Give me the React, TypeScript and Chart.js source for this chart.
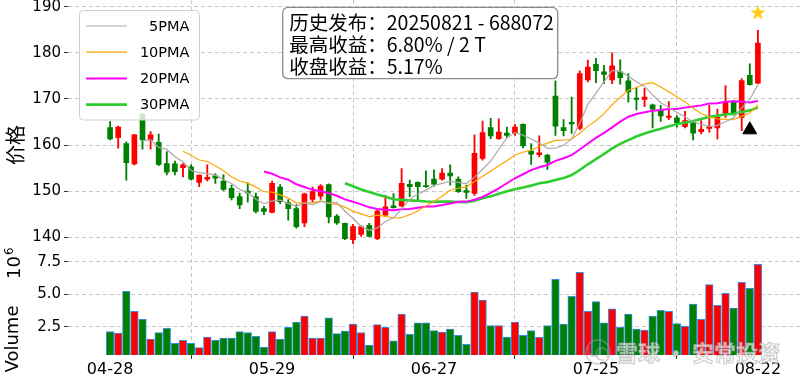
import React, { useEffect, useRef } from 'react';
import { Chart, registerables } from 'chart.js';

Chart.register(...registerables);

// ---------- data ----------
const dates = [
  '04-28', '04-29', '04-30', '05-06', '05-07', '05-08', '05-09', '05-12', '05-13', '05-14',
  '05-15', '05-16', '05-19', '05-20', '05-21', '05-22', '05-23', '05-26', '05-27', '05-28',
  '05-29', '05-30', '06-03', '06-04', '06-05', '06-06', '06-09', '06-10', '06-11', '06-12',
  '06-13', '06-16', '06-17', '06-18', '06-19', '06-20', '06-23', '06-24', '06-25', '06-26',
  '06-27', '06-30', '07-01', '07-02', '07-03', '07-04', '07-07', '07-08', '07-09', '07-10',
  '07-11', '07-14', '07-15', '07-16', '07-17', '07-18', '07-21', '07-22', '07-23', '07-24',
  '07-25', '07-28', '07-29', '07-30', '07-31', '08-01', '08-04', '08-05', '08-06', '08-07',
  '08-08', '08-11', '08-12', '08-13', '08-14', '08-15', '08-18', '08-19', '08-20', '08-21',
  '08-22',
];

const openP = [
  163.8, 161.6, 160.3, 155.9, 166.7, 161.1, 160.6, 156.0, 155.9, 155.1,
  155.3, 151.9, 152.6, 153.3, 152.2, 150.6, 148.8, 150.0, 148.8, 146.2,
  145.4, 150.9, 147.5, 146.2, 143.1, 148.2, 148.9, 151.4, 144.6, 143.0,
  139.5, 140.6, 142.6, 139.7, 144.8, 146.8, 146.8, 151.5, 151.9, 151.2,
  152.6, 152.6, 153.9, 152.6, 150.1, 149.5, 157.1, 163.8, 161.4, 162.6,
  162.6, 164.5, 158.7, 157.9, 157.8, 170.6, 163.8, 164.9, 163.6, 174.1,
  177.5, 175.9, 174.1, 175.9, 173.9, 170.2, 169.9, 168.7, 167.5, 166.0,
  165.9, 164.0, 164.8, 162.9, 163.6, 163.7, 166.8, 169.4, 166.0, 175.1,
  173.4,
];
const highP = [
  165.1, 164.1, 160.7, 162.3, 166.8, 162.9, 162.4, 158.6, 156.5, 156.0,
  155.7, 153.5, 155.7, 153.8, 153.6, 151.3, 149.6, 151.8, 149.6, 146.7,
  152.2, 151.4, 148.2, 147.1, 149.6, 150.9, 151.4, 151.6, 144.9, 143.1,
  142.8, 142.5, 143.0, 145.9, 149.1, 149.5, 154.9, 152.4, 152.0, 154.4,
  154.6, 154.9, 155.7, 153.1, 151.3, 162.2, 165.2, 165.8, 165.7, 163.9,
  164.5, 164.6, 160.3, 162.0, 158.0, 173.9, 165.5, 170.4, 176.1, 178.4,
  178.8, 177.3, 180.0, 178.5, 175.5, 172.5, 172.3, 168.9, 168.6, 169.4,
  166.4, 167.3, 165.3, 165.3, 168.6, 167.8, 172.9, 169.7, 174.4, 177.6,
  184.9,
];
const lowP = [
  161.1, 159.3, 152.4, 155.7, 159.1, 159.1, 155.5, 153.5, 153.5, 153.1,
  152.4, 151.0, 152.2, 151.7, 150.1, 148.1, 146.2, 147.6, 145.3, 144.9,
  145.3, 147.3, 143.7, 142.0, 142.3, 147.6, 148.2, 143.1, 142.8, 139.5,
  138.6, 140.2, 140.1, 139.5, 144.6, 146.3, 146.6, 148.8, 148.1, 150.8,
  151.1, 152.4, 151.3, 149.7, 148.4, 149.1, 156.7, 161.4, 161.2, 161.6,
  162.1, 159.4, 155.8, 157.4, 154.7, 162.1, 162.0, 162.5, 163.3, 173.7,
  173.5, 173.3, 173.3, 173.2, 169.3, 167.6, 168.3, 163.7, 165.1, 165.5,
  163.9, 163.7, 161.1, 162.4, 162.8, 161.3, 166.0, 166.5, 163.1, 173.0,
  173.3,
];
const closeP = [
  161.3, 163.9, 156.2, 162.2, 161.1, 162.2, 155.8, 154.1, 154.2, 155.7,
  152.6, 153.5, 153.0, 152.8, 150.4, 148.6, 147.0, 149.6, 145.6, 145.6,
  151.7, 147.7, 146.2, 142.3, 149.4, 149.9, 151.1, 144.4, 143.1, 139.7,
  142.3, 142.3, 140.2, 145.7, 146.6, 146.4, 151.7, 151.0, 151.0, 151.0,
  151.5, 153.9, 153.3, 149.9, 149.7, 158.2, 162.7, 162.0, 162.8, 162.1,
  163.9, 159.8, 158.0, 158.3, 156.3, 164.1, 163.1, 164.6, 175.5, 176.9,
  176.1, 175.3, 177.2, 174.6, 171.5, 169.9, 170.4, 167.8, 166.3, 166.3,
  164.8, 165.3, 162.6, 163.4, 164.0, 166.0, 169.3, 167.0, 174.0, 173.1,
  182.1,
];
// volume in units of 10^6
const volume = [
  2.14, 2.04, 5.23, 3.70, 3.09, 1.58, 2.07, 2.40, 1.25, 1.48,
  1.25, 0.92, 1.73, 1.48, 1.66, 1.66, 2.14, 2.07, 1.79, 0.97,
  2.14, 1.58, 2.47, 2.88, 3.34, 1.66, 1.66, 3.21, 1.99, 2.19,
  2.73, 2.07, 1.10, 2.68, 2.47, 1.45, 3.49, 1.94, 2.81, 2.81,
  2.22, 2.12, 2.35, 1.86, 1.17, 5.18, 4.57, 2.60, 2.60, 1.73,
  2.88, 1.86, 2.22, 1.71, 2.60, 6.15, 2.73, 4.85, 6.68, 3.70,
  4.44, 2.81, 3.90, 2.47, 3.49, 2.35, 2.27, 3.34, 3.78, 3.70,
  2.76, 2.55, 4.26, 3.09, 5.74, 4.16, 5.08, 3.95, 5.92, 5.46,
  7.30,
];

const xTickIndex = [0, 20, 40, 60, 80];
const priceTicks = [140, 150, 160, 170, 180, 190];
const volumeTicks = [2.5, 5.0, 7.5];

const maPeriods = [5, 10, 20, 30];
const maLabels = ['5PMA', '10PMA', '20PMA', '30PMA'];
const maColors = ['#a9a9a9', '#ffa500', '#ff00ff', '#2fcc2f'];
const maWidths = [1.2, 1.2, 2.0, 2.6];

const releaseIndex = 79;
const releaseMarkerPrice = 163.3;
const peakIndex = 80;
const peakMarkerPrice = 188.8;

const infoLines = ['历史发布：20250821 - 688072', '最高收益：6.80% / 2 T', '收盘收益：5.17%'];

const UP = '#ff0000';
const DOWN = '#008000';

// panel frame (pixels)
const AREA = { left: 68, right: 800, top: 0, split: 254.8, bottom: 355, canvasH: 381 };

// ---------- helpers ----------
function movingAverage(n: number) {
  return closeP.map((_, i) => {
    if (i < n - 1) return null;
    let s = 0;
    for (let k = i - n + 1; k <= i; k++) s += closeP[k];
    return s / n;
  });
}

function makeStar(size: number, color: string) {
  const c = document.createElement('canvas');
  c.width = size;
  c.height = size;
  const g = c.getContext('2d')!;
  const cx = size / 2, cy = size / 2 + size * 0.05;
  const R = size / 2, r = R * 0.4;
  g.beginPath();
  for (let k = 0; k < 10; k++) {
    const a = -Math.PI / 2 + (k * Math.PI) / 5;
    const rr = k % 2 === 0 ? R : r;
    const px = cx + rr * Math.cos(a), py = cy + rr * Math.sin(a);
    if (k === 0) g.moveTo(px, py); else g.lineTo(px, py);
  }
  g.closePath();
  g.fillStyle = color;
  g.fill();
  return c;
}

function roundRect(ctx: CanvasRenderingContext2D, x: number, y: number, w: number, h: number, r: number) {
  ctx.beginPath();
  ctx.moveTo(x + r, y);
  ctx.lineTo(x + w - r, y);
  ctx.quadraticCurveTo(x + w, y, x + w, y + r);
  ctx.lineTo(x + w, y + h - r);
  ctx.quadraticCurveTo(x + w, y + h, x + w - r, y + h);
  ctx.lineTo(x + r, y + h);
  ctx.quadraticCurveTo(x, y + h, x, y + h - r);
  ctx.lineTo(x, y + r);
  ctx.quadraticCurveTo(x, y, x + r, y);
  ctx.closePath();
}

function setBox(s: any, left: number, top: number, right: number, bottom: number) {
  s.left = left; s.top = top; s.right = right; s.bottom = bottom;
  s.width = right - left; s.height = bottom - top;
  s.paddingLeft = 0; s.paddingRight = 0; s.paddingTop = 0; s.paddingBottom = 0;
  if (s.configure) s.configure();
}

const framePlugin = {
  id: 'frame',
  afterLayout(chart: any) {
    const ca = chart.chartArea;
    ca.left = AREA.left; ca.right = AREA.right; ca.top = AREA.top; ca.bottom = AREA.bottom;
    ca.width = AREA.right - AREA.left; ca.height = AREA.bottom - AREA.top;
    setBox(chart.scales.x, AREA.left, AREA.bottom, AREA.right, AREA.canvasH);
    setBox(chart.scales.y, 0, AREA.top, AREA.left, AREA.split);
    setBox(chart.scales.yv, 0, AREA.split, AREA.left, AREA.bottom);
  },
};

const overlayPlugin = {
  id: 'overlay',
  afterDatasetsDraw(chart: any) {
    const ctx: CanvasRenderingContext2D = chart.ctx;
    ctx.save();

    // legend
    roundRect(ctx, 79.5, 10.5, 120, 109.5, 4);
    ctx.fillStyle = 'rgba(255,255,255,0.8)';
    ctx.fill();
    ctx.strokeStyle = '#d0d0d0';
    ctx.lineWidth = 1;
    ctx.stroke();
    maLabels.forEach((lab, k) => {
      const y = 26 + k * 26.2;
      ctx.beginPath();
      ctx.moveTo(86, y);
      ctx.lineTo(127, y);
      ctx.strokeStyle = maColors[k];
      ctx.lineWidth = maWidths[k];
      ctx.stroke();
      ctx.fillStyle = '#000';
      ctx.font = '14.5px "DejaVu Sans"';
      ctx.textAlign = 'right';
      ctx.textBaseline = 'middle';
      ctx.fillText(lab, 189.5, y + 1);
    });

    // info box
    roundRect(ctx, 282.7, 7.3, 275, 71.4, 6);
    ctx.fillStyle = 'rgba(255,255,255,0.95)';
    ctx.fill();
    ctx.strokeStyle = '#8c8c8c';
    ctx.lineWidth = 1.3;
    ctx.stroke();
    ctx.fillStyle = '#000';
    ctx.font = '19.5px "Noto Sans CJK SC"';
    ctx.textAlign = 'left';
    ctx.textBaseline = 'alphabetic';
    infoLines.forEach((t, k) => ctx.fillText(t, 289.3, 29.8 + k * 22.2));

    // watermark
    ctx.strokeStyle = 'rgba(160,160,160,0.5)';
    ctx.lineWidth = 1.6;
    ctx.beginPath();
    ctx.arc(598, 352, 12, 0, Math.PI * 2);
    ctx.stroke();
    ctx.beginPath();
    ctx.arc(594, 350, 6, -0.6, Math.PI * 1.2);
    ctx.stroke();
    ctx.beginPath();
    ctx.arc(602, 354, 6, Math.PI * 0.4, Math.PI * 2.2);
    ctx.stroke();
    ctx.font = 'bold 22px "Noto Sans CJK SC"';
    ctx.textAlign = 'left';
    ctx.textBaseline = 'middle';
    ctx.lineWidth = 1.1;
    ctx.strokeStyle = 'rgba(150,150,150,0.5)';
    ctx.fillStyle = 'rgba(255,255,255,0.65)';
    const wm = '雪球 · 安常投资';
    ctx.fillText(wm, 616, 353);
    ctx.strokeText(wm, 616, 353);

    ctx.restore();
  },
  afterDraw(chart: any) {
    const ctx: CanvasRenderingContext2D = chart.ctx;
    ctx.save();
    ctx.fillStyle = '#000';
    ctx.translate(15, 145);
    ctx.rotate(-Math.PI / 2);
    ctx.font = '20px "Noto Sans CJK SC"';
    ctx.textAlign = 'center';
    ctx.textBaseline = 'middle';
    ctx.fillText('价格', 0, 0);
    ctx.restore();

    ctx.save();
    ctx.fillStyle = '#000';
    ctx.translate(13, 339);
    ctx.rotate(-Math.PI / 2);
    ctx.font = '18px "DejaVu Sans"';
    ctx.textAlign = 'center';
    ctx.textBaseline = 'middle';
    ctx.fillText('Volume', 0, 0);
    ctx.restore();

    ctx.save();
    ctx.fillStyle = '#000';
    ctx.translate(20, 279);
    ctx.rotate(-Math.PI / 2);
    ctx.font = '18px "DejaVu Sans"';
    ctx.textAlign = 'left';
    ctx.textBaseline = 'alphabetic';
    ctx.fillText('10', 0, 0);
    const w = ctx.measureText('10').width;
    ctx.font = '12px "DejaVu Sans"';
    ctx.fillText('6', w + 1, -7);
    ctx.restore();
  },
};

export default function App() {
  const ref = useRef<HTMLCanvasElement | null>(null);

  useEffect(() => {
    document.body.style.margin = '0';
    const colors = closeP.map((c, i) => (c >= openP[i] ? UP : DOWN));
    const idx = closeP.map((_, i) => i);

    const maSets = maPeriods.map((n, k) => {
      const ma = movingAverage(n);
      return {
        type: 'line' as const,
        label: maLabels[k],
        data: idx.filter((i) => ma[i] !== null).map((i) => ({ x: i, y: ma[i] as number })),
        borderColor: maColors[k],
        borderWidth: maWidths[k],
        pointRadius: 0,
        fill: false,
        tension: 0,
        yAxisID: 'y',
        order: 1,
      };
    });

    const star = makeStar(16, '#ffcc14');

    const chart = new Chart(ref.current!, {
      type: 'bar',
      data: {
        datasets: [
          {
            type: 'bar',
            label: 'wick',
            data: idx.map((i) => ({ x: i, y: [lowP[i], highP[i]] })) as any,
            backgroundColor: colors,
            barThickness: 1.2,
            grouped: false,
            yAxisID: 'y',
            order: 3,
          },
          {
            type: 'bar',
            label: 'body',
            data: idx.map((i) => ({ x: i, y: [openP[i], closeP[i]] })) as any,
            backgroundColor: colors,
            barThickness: 5,
            minBarLength: 1,
            grouped: false,
            yAxisID: 'y',
            order: 2,
          },
          ...maSets,
          {
            type: 'bar',
            label: 'volume',
            data: idx.map((i) => ({ x: i, y: volume[i] })) as any,
            backgroundColor: colors,
            borderColor: '#3a8ee0',
            borderWidth: 1,
            borderSkipped: 'start',
            barThickness: 7.6,
            grouped: false,
            yAxisID: 'yv',
            order: 4,
          },
          {
            type: 'scatter',
            label: 'release',
            data: [{ x: releaseIndex, y: releaseMarkerPrice }],
            pointStyle: 'triangle',
            pointRadius: 8,
            backgroundColor: '#000',
            borderColor: '#000',
            yAxisID: 'y',
            order: 0,
          },
          {
            type: 'scatter',
            label: 'peak',
            data: [{ x: peakIndex, y: peakMarkerPrice }],
            pointStyle: star as any,
            pointRadius: 8,
            yAxisID: 'y',
            order: 0,
          },
        ] as any,
      },
      options: {
        responsive: false,
        animation: false,
        maintainAspectRatio: false,
        layout: { padding: 0 },
        plugins: { legend: { display: false }, tooltip: { enabled: false } },
        scales: {
          x: {
            type: 'linear',
            position: 'bottom',
            min: -5.2,
            max: 85.2,
            offset: false,
            afterBuildTicks: (s: any) => {
              s.ticks = xTickIndex.map((v) => ({ value: v }));
            },
            afterFit: (s: any) => {
              s.height = 26;
            },
            ticks: {
              callback: (v: any) => dates[Number(v)] ?? '',
              font: { family: 'DejaVu Sans', size: 16 },
              color: '#000',
              padding: 1,
              maxRotation: 0,
              autoSkip: false,
            },
            grid: { color: '#c8c8c8', lineWidth: 1, tickLength: 4, tickColor: '#333', drawTicks: true },
            border: { display: false, dash: [4, 3] },
          },
          y: {
            type: 'linear',
            position: 'left',
            stack: 'panels',
            stackWeight: 254.8,
            weight: 1,
            min: 136.2,
            max: 191.45,
            afterBuildTicks: (s: any) => {
              s.ticks = priceTicks.map((v) => ({ value: v }));
            },
            afterFit: (s: any) => {
              s.width = 68;
            },
            ticks: {
              callback: (v: any) => String(v),
              font: { family: 'DejaVu Sans', size: 15 },
              color: '#000',
              padding: 3,
            },
            grid: { color: '#c8c8c8', lineWidth: 1, tickLength: 4, tickColor: '#333' },
            border: { display: false, dash: [4, 3] },
          },
          yv: {
            type: 'linear',
            position: 'left',
            stack: 'panels',
            stackWeight: 100.2,
            weight: 0,
            min: 0.356,
            max: 8.028,
            afterBuildTicks: (s: any) => {
              s.ticks = volumeTicks.map((v) => ({ value: v }));
            },
            afterFit: (s: any) => {
              s.width = 68;
            },
            ticks: {
              callback: (v: any) => Number(v).toFixed(1),
              font: { family: 'DejaVu Sans', size: 15 },
              color: '#000',
              padding: 3,
            },
            grid: { color: '#c8c8c8', lineWidth: 1, tickLength: 4, tickColor: '#333' },
            border: { display: false, dash: [4, 3] },
          },
        } as any,
      },
      plugins: [framePlugin as any, overlayPlugin as any],
    });

    return () => chart.destroy();
  }, []);

  return (
    <div style={{ width: 800, height: 381, position: 'relative', background: '#fff' }}>
      <canvas ref={ref} width={800} height={381} style={{ display: 'block', width: 800, height: 381 }} />
    </div>
  );
}
